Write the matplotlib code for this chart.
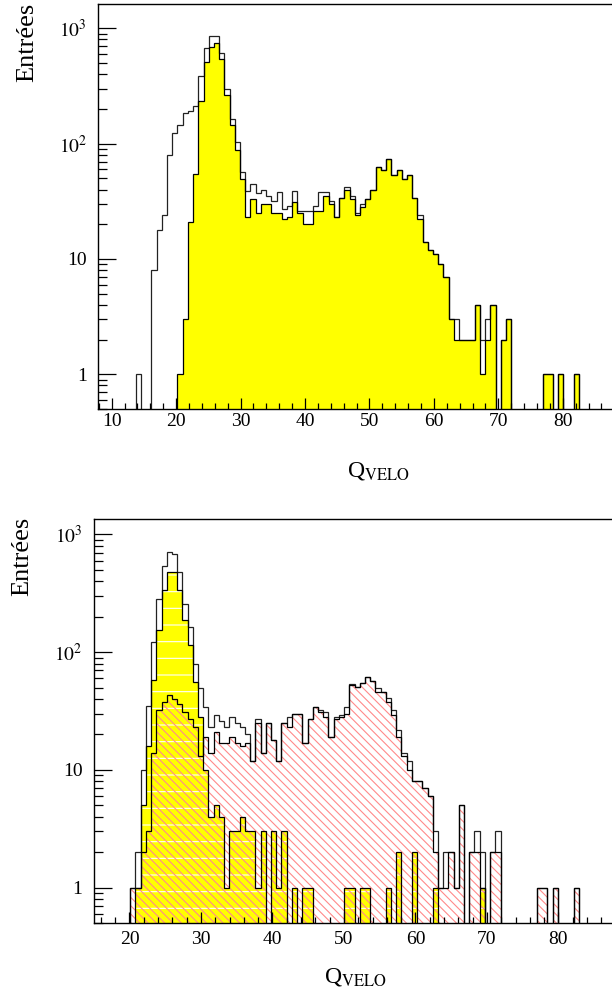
import matplotlib
matplotlib.use("Agg")
import matplotlib.pyplot as plt
import numpy as np
from matplotlib.ticker import FixedLocator, MultipleLocator, LogLocator, NullFormatter

plt.rcParams['font.family'] = ['Liberation Serif', 'DejaVu Serif']
plt.rcParams['mathtext.fontset'] = 'stix'
plt.rcParams['hatch.linewidth'] = 0.8

# ---- top panel: binning + contents ----
top_lo, top_width = 13.72, 0.8095
top_open = [1, 0, 0, 8, 18, 24, 80, 123, 144, 186,
            193, 212, 386, 671, 858, 858, 607, 296, 164, 104,
            57, 39, 45, 37, 40, 35, 32, 38, 27, 29,
            39, 26, 26, 26, 29, 38, 38, 32, 23, 34,
            42, 35, 25, 30, 33, 40, 63, 59, 74, 54,
            59, 49, 54, 34, 24, 14, 12, 11, 9, 7,
            3, 3, 2, 2, 2, 4, 2, 3, 4, 0,
            2, 3, 0, 0, 0, 0, 0, 0, 1, 1,
            0, 1, 0, 0, 1]
top_yellow = [0, 0, 0, 0, 0, 0, 0, 0, 1, 3,
              21, 55, 234, 514, 693, 751, 538, 264, 145, 88,
              49, 23, 33, 25, 30, 30, 25, 25, 22, 23,
              31, 25, 20, 20, 26, 26, 35, 30, 23, 34,
              40, 33, 24, 28, 33, 40, 63, 59, 74, 54,
              59, 49, 54, 34, 22, 14, 12, 11, 9, 7,
              3, 2, 2, 2, 2, 4, 1, 2, 4, 0,
              2, 3, 0, 0, 0, 0, 0, 0, 1, 1,
              0, 1, 0, 0, 1]

# ---- bottom panel ----
bot_lo, bot_width = 20.11, 0.7294
bot_total = [1, 2, 10, 35, 122, 280, 535, 705, 680, 477,
             256, 163, 80, 50, 34, 23, 29, 26, 23, 28,
             25, 23, 20, 12, 27, 14, 25, 18, 12, 25,
             28, 30, 30, 17, 27, 34, 32, 31, 19, 28,
             29, 34, 54, 51, 55, 61, 57, 50, 46, 41,
             32, 22, 14, 12, 8, 8, 7, 6, 3, 1,
             2, 2, 1, 5, 0, 2, 3, 2, 0, 2,
             3, 0, 0, 0, 0, 0, 0, 0, 1, 1,
             0, 1, 0, 0, 0, 1]
bot_yellow = [0, 1, 5, 16, 58, 154, 339, 479, 479, 339,
              187, 115, 56, 28, 10, 4, 5, 4, 1, 3,
              3, 4, 3, 3, 1, 3, 0, 3, 1, 3,
              0, 1, 0, 1, 1, 0, 0, 0, 0, 0,
              0, 1, 1, 0, 1, 1, 0, 0, 0, 1,
              0, 2, 0, 0, 2, 0, 0, 0, 1, 0,
              0, 0, 0, 0, 0, 0, 0, 1, 0, 0,
              0, 0, 0, 0, 0, 0, 0, 0, 0, 0,
              0, 0, 0, 0, 0, 0]
bot_red = [1, 1, 2, 3, 14, 32, 38, 43, 40, 36,
           31, 27, 23, 13, 19, 14, 21, 17, 17, 19,
           17, 16, 17, 12, 25, 14, 25, 18, 12, 25,
           23, 30, 30, 17, 27, 34, 31, 28, 19, 27,
           28, 30, 53, 51, 55, 61, 57, 46, 46, 38,
           29, 19, 13, 10, 8, 8, 7, 6, 2, 1,
           1, 2, 1, 5, 0, 2, 2, 1, 0, 2,
           2, 0, 0, 0, 0, 0, 0, 0, 1, 1,
           0, 1, 0, 0, 0, 1]

FLOOR = 1e-3  # stand-in for empty bins on the log axis


def edges(lo, width, n):
    return lo + width * np.arange(n + 1)


def clean(vals):
    v = np.asarray(vals, dtype=float)
    return np.where(v > 0, v, FLOOR)


def style_axis(ax, xlim, ylim, labels_pad):
    ax.set_yscale('log')
    ax.set_xlim(*xlim)
    ax.set_ylim(*ylim)
    ax.xaxis.set_major_locator(MultipleLocator(10))
    ax.xaxis.set_minor_locator(MultipleLocator(2))
    ax.yaxis.set_major_locator(FixedLocator([1, 10, 100, 1000]))
    ax.set_yticklabels(['1', '10', r'$10^{2}$', r'$10^{3}$'])
    ax.yaxis.set_minor_locator(LogLocator(base=10, subs=np.arange(2, 10) * 1.0, numticks=30))
    ax.yaxis.set_minor_formatter(NullFormatter())
    ax.tick_params(axis='x', which='major', direction='in', length=8, width=0.9,
                   labelsize=14, pad=labels_pad, top=False)
    ax.tick_params(axis='x', which='minor', direction='in', length=4, width=0.9, top=False)
    ax.tick_params(axis='y', which='major', direction='in', length=13, width=0.9,
                   labelsize=14, pad=8, right=False)
    ax.tick_params(axis='y', which='minor', direction='in', length=6.5, width=0.9, right=False)
    for s in ax.spines.values():
        s.set_linewidth(1.0)


fig = plt.figure(figsize=(6.12, 9.92), dpi=100)

# ===== top panel (frame runs past the right edge of the picture) =====
ax1 = fig.add_axes([98 / 612, 1 - 409 / 992, 526 / 612, 405 / 992])
e1 = edges(top_lo, top_width, len(top_open))
ax1.stairs(clean(top_yellow), e1, baseline=FLOOR, fill=True, facecolor='#ffff00',
           edgecolor='none', linewidth=0)
ax1.stairs(clean(top_open), e1, baseline=FLOOR, color='#222222', linewidth=0.9)
ax1.stairs(clean(top_yellow), e1, baseline=FLOOR, color='black', linewidth=0.9)
style_axis(ax1, (7.87, 89.5), (0.5, 1625), 3)

# ===== bottom panel =====
ax2 = fig.add_axes([93.7 / 612, 1 - 923 / 992, 532.7 / 612, 404 / 992])
e2 = edges(bot_lo, bot_width, len(bot_total))
ax2.stairs(clean(bot_yellow), e2, baseline=FLOOR, fill=True, facecolor='#ffff00',
           edgecolor='white', hatch='-', linewidth=0)
ax2.stairs(clean(bot_red), e2, baseline=FLOOR, fill=True, facecolor='none',
           edgecolor='#ff8a8a', hatch='\\\\\\\\', linewidth=0)
ax2.stairs(clean(bot_total), e2, baseline=FLOOR, color='#222222', linewidth=0.9)
ax2.stairs(clean(bot_yellow), e2, baseline=FLOOR, color='black', linewidth=0.9)
ax2.stairs(clean(bot_red), e2, baseline=FLOOR, color='black', linewidth=0.9)
style_axis(ax2, (15, 89.5), (0.5, 1352), 6)

# axis titles
fig.text(27 / 612, 1 - 3 / 992, 'Entrées', rotation=90, ha='center', va='top', fontsize=19)
fig.text(22 / 612, 1 - 517 / 992, 'Entrées', rotation=90, ha='center', va='top', fontsize=19)
fig.text(410 / 612, 1 - 476 / 992, r'Q$_{\mathrm{VELO}}$', ha='right', va='baseline', fontsize=17)
fig.text(387 / 612, 1 - 982 / 992, r'Q$_{\mathrm{VELO}}$', ha='right', va='baseline', fontsize=17)

fig.savefig('out.png', dpi=100)
